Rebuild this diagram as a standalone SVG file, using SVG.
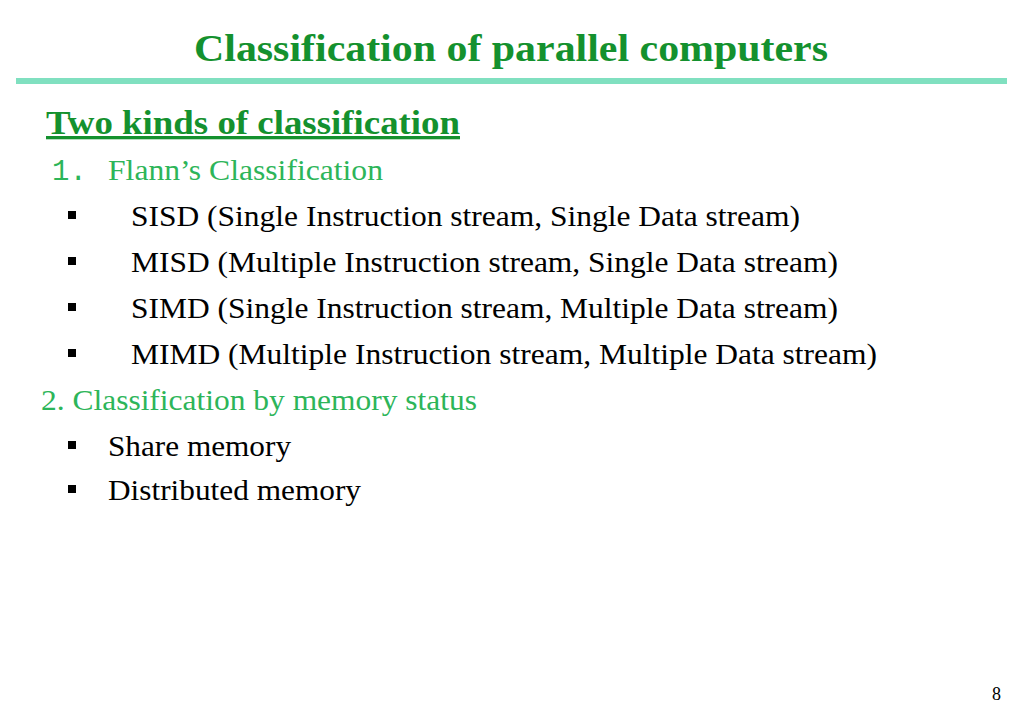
<svg xmlns="http://www.w3.org/2000/svg" width="1024" height="709" viewBox="0 0 1024 709">
<style>
.t{font-family:"Liberation Serif",serif}
.g{fill:#14912e}
.lg{fill:#2db559}
.b{fill:#000}
.s{font-size:29px}
</style>
<rect width="1024" height="709" fill="#fff"/>
<text class="t g" x="194" y="61" font-size="38" font-weight="bold" textLength="634" lengthAdjust="spacingAndGlyphs">Classification of parallel computers</text>
<rect x="16" y="78" width="991" height="6" fill="#80e0c0"/>
<text class="t g" x="46" y="134" font-size="33" font-weight="bold" text-decoration="underline" textLength="414" lengthAdjust="spacingAndGlyphs">Two kinds of classification</text>
<text class="lg s" x="52" y="180" style="font-family:'Liberation Mono',monospace">1.</text>
<text class="t lg s" x="108" y="180" textLength="275" lengthAdjust="spacingAndGlyphs">Flann’s Classification</text>
<g class="b">
<rect x="68" y="211" width="8" height="8"/>
<rect x="68" y="257" width="8" height="8"/>
<rect x="68" y="303" width="8" height="8"/>
<rect x="68" y="349" width="8" height="8"/>
<rect x="68" y="441" width="8" height="8"/>
<rect x="68" y="485" width="8" height="8"/>
</g>
<text class="t b s" x="131" y="226" textLength="669" lengthAdjust="spacingAndGlyphs">SISD (Single Instruction stream, Single Data stream)</text>
<text class="t b s" x="131" y="272" textLength="707" lengthAdjust="spacingAndGlyphs">MISD (Multiple Instruction stream, Single Data stream)</text>
<text class="t b s" x="131" y="318" textLength="707" lengthAdjust="spacingAndGlyphs">SIMD (Single Instruction stream, Multiple Data stream)</text>
<text class="t b s" x="131" y="364" textLength="746" lengthAdjust="spacingAndGlyphs">MIMD (Multiple Instruction stream, Multiple Data stream)</text>
<text class="t lg s" x="41" y="410" textLength="436" lengthAdjust="spacingAndGlyphs">2. Classification by memory status</text>
<text class="t b s" x="108" y="456" textLength="183" lengthAdjust="spacingAndGlyphs">Share memory</text>
<text class="t b s" x="108" y="500" textLength="253" lengthAdjust="spacingAndGlyphs">Distributed memory</text>
<text class="t b" x="992" y="700" font-size="18">8</text>
</svg>
